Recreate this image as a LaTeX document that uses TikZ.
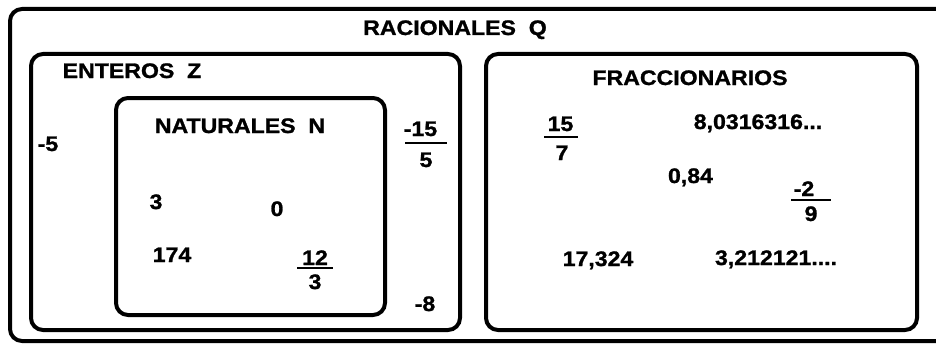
\documentclass[tikz,border=0pt]{standalone}
\usepackage{fontspec}
\newfontfamily\heavyfont{Liberation Sans Bold}[FakeStretch=1.1,FakeBold=1.2]
\begin{document}
\begin{tikzpicture}[x=1pt,y=-1pt,
  setbox/.style={draw,line width=4pt,rounded corners=12pt,inner sep=0pt,outer sep=0pt},
  lbl/.style={anchor=base,inner sep=0pt,font=\heavyfont\fontsize{21pt}{25pt}\selectfont},
  fbar/.style={line width=2pt}]
\useasboundingbox (0,0) rectangle (936,345);
\clip (0,0) rectangle (936,345);
\fill[white] (0,0) rectangle (936,345);
% set boxes
\node[setbox,minimum width=950pt,minimum height=332pt] (Q) at (485,175) {};
\node[setbox,minimum width=429pt,minimum height=276pt] (Z) at (245.5,192) {};
\node[setbox,minimum width=269pt,minimum height=217pt] (N) at (250.5,206.5) {};
\node[setbox,minimum width=431pt,minimum height=276pt] (F) at (701.5,192) {};
% titles
\node[lbl] (tQ) at (455,35) {RACIONALES\ \ Q};
\node[lbl] (tZ) at (132,78) {ENTEROS\ \ Z};
\node[lbl] (tN) at (240,133) {NATURALES\ \ N};
\node[lbl] (tF) at (690,85) {FRACCIONARIOS};
% naturales
\node[lbl] (n3) at (156,209) {3};
\node[lbl] (n0) at (277,216) {0};
\node[lbl] (n174) at (172,262) {174};
\node[lbl] (n12) at (315,265) {12};
\node[lbl] (n12d) at (315,289) {3};
\draw[fbar] (297,268) -- (333,268);
% enteros
\node[lbl] (zm5) at (48,151) {-5};
\node[lbl] (zm15) at (420.5,136) {-15};
\node[lbl] (zm15d) at (426,167) {5};
\draw[fbar] (405,143) -- (447,143);
\node[lbl] (zm8) at (425,311) {-8};
% fraccionarios
\node[lbl] (f15) at (560.5,131) {15};
\node[lbl] (f15d) at (562,160) {7};
\draw[fbar] (544,137) -- (578,137);
\node[lbl] (f8) at (758,129) {8,0316316...};
\node[lbl] (f084) at (690.5,183) {0,84};
\node[lbl] (fm2) at (804,196) {-2};
\node[lbl] (fm2d) at (811,221) {9};
\draw[fbar] (791,200) -- (831,200);
\node[lbl] (f17) at (598,266) {17,324};
\node[lbl] (f3) at (776,265) {3,212121....};
\end{tikzpicture}
\end{document}
